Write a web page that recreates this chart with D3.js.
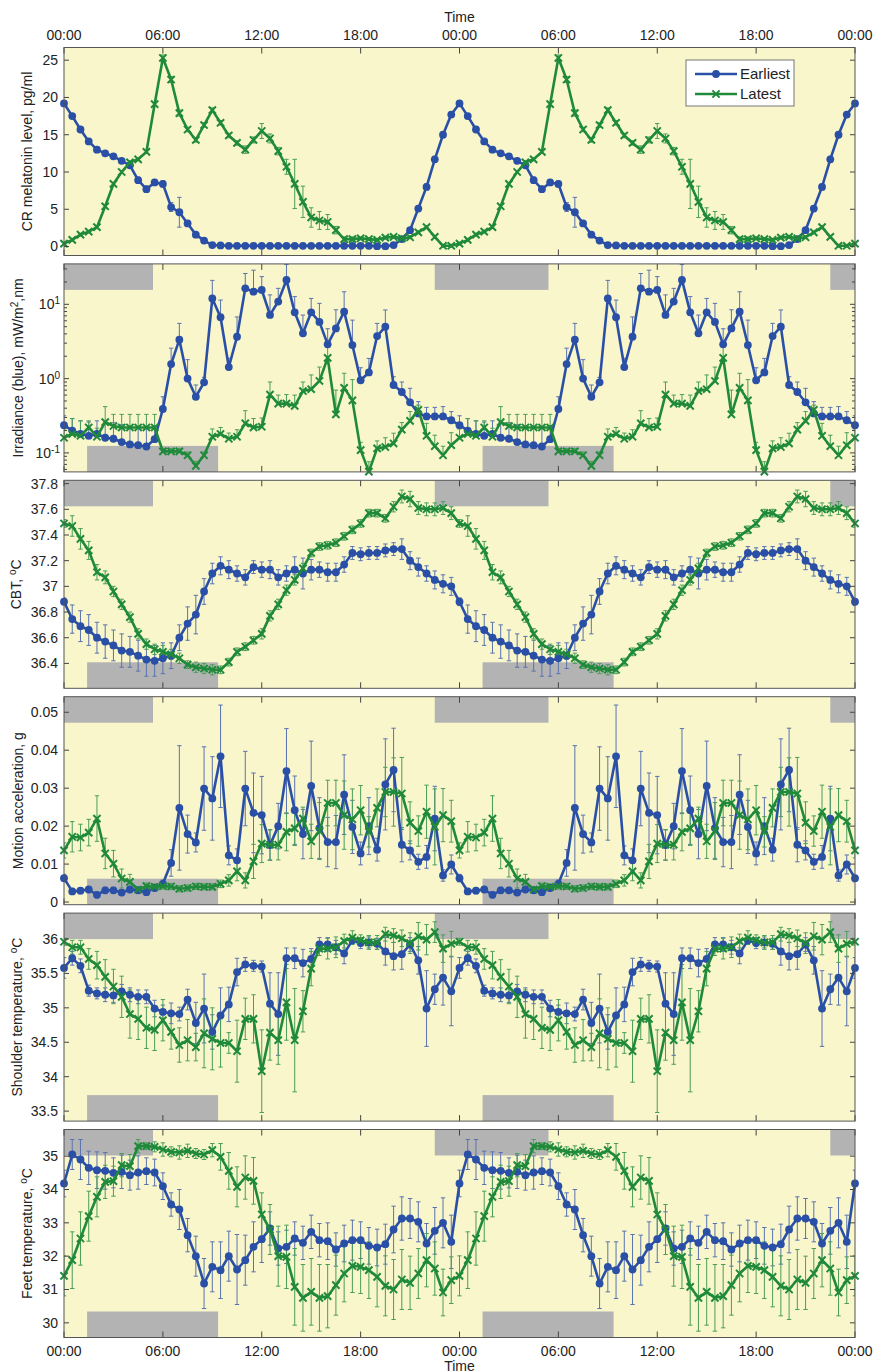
<!DOCTYPE html>
<html lang="en">
<head>
<meta charset="UTF-8">
<title>Earliest vs latest chronotype, double-plotted day</title>
<style>
  body { margin: 0; background: #fff; }
  text { font-family: "Liberation Sans", Arial, sans-serif; fill: #222; }
</style>
</head>
<body>
<div id="my_dataviz"></div>
<script src="https://d3js.org/d3.v7.min.js"></script>
<script>
// ---- data: one value per 30 min, 00:00 .. 23:30 (rows = 6 h each) ----
var hourLabels = ["00:00", "06:00", "12:00", "18:00", "00:00", "06:00", "12:00", "18:00", "00:00"];
var seriesNames = ["Earliest", "Latest"];

// sleep windows (clock hours, onset -> offset)
var earlySleep = [22.5, 29.4];
var lateSleep = [1.4, 9.35];

var melEarly = [
  19.2, 17.5, 15.7, 14.1, 13.0, 12.5, 12.1, 11.5, 10.9, 8.9, 7.7, 8.6,
  8.4, 5.3, 4.6, 3.1, 1.6, 0.8, 0.2, 0.15, 0.1, 0.1, 0.1, 0.1,
  0.1, 0.1, 0.1, 0.1, 0.1, 0.1, 0.1, 0.1, 0.1, 0.1, 0.1, 0.1,
  0.1, 0.1, 0.05, 0.05, 0.2, 1.0, 2.2, 5.1, 8.0, 11.7, 15.0, 17.7];
var melEarlyErr = [
  0.3, 0.3, 0.3, 0.3, 0.3, 0.3, 0.3, 0.3, 0.3, 0.4, 0.4, 0.4,
  0.4, 0.6, 2.0, 0.4, 0.3, 0.2, 0.1, 0.1, 0.1, 0.1, 0.1, 0.1,
  0.1, 0.1, 0.1, 0.1, 0.1, 0.1, 0.1, 0.1, 0.1, 0.1, 0.1, 0.1,
  0.1, 0.1, 0.1, 0.1, 0.1, 0.2, 0.3, 0.4, 0.4, 0.4, 0.3, 0.3];
var melLate = [
  0.4, 0.9, 1.6, 2.0, 2.6, 5.4, 8.4, 10.0, 11.3, 11.7, 12.7, 19.1,
  25.3, 22.4, 17.9, 15.7, 14.3, 16.3, 18.3, 16.6, 14.9, 13.9, 13.0, 14.3,
  15.5, 14.5, 12.8, 10.7, 8.4, 6.0, 3.9, 3.5, 3.3, 2.2, 1.0, 1.0,
  1.1, 1.0, 0.9, 1.2, 1.3, 1.1, 1.25, 1.9, 2.6, 1.3, 0.1, 0.1];
var melLateErr = [
  0.2, 0.2, 0.2, 0.2, 0.2, 0.2, 0.2, 0.2, 0.2, 0.2, 0.2, 0.2,
  0.4, 0.4, 0.4, 0.3, 0.3, 0.3, 0.3, 0.3, 0.3, 0.3, 0.5, 0.4,
  1.0, 0.6, 0.5, 1.0, 3.3, 2.1, 1.3, 1.2, 1.0, 0.5, 0.3, 0.3,
  0.2, 0.2, 0.2, 0.2, 0.2, 0.2, 0.2, 0.2, 0.2, 0.2, 0.2, 0.2];

var irrEarly = [
  0.236, 0.20, 0.18, 0.17, 0.18, 0.16, 0.155, 0.14, 0.13, 0.127, 0.122, 0.153,
  0.39, 1.57, 3.34, 1.0, 0.57, 0.89, 12, 6.7, 1.43, 3.66, 16.4, 14.8,
  15.6, 7.2, 10.9, 21.3, 7.8, 4.07, 7.8, 5.8, 2.89, 4.74, 7.96, 2.83,
  0.95, 1.21, 3.74, 5.0, 0.82, 0.66, 0.48, 0.34, 0.31, 0.31, 0.31, 0.275];
var irrEarlyErr = [
  0.08, 0.09, 0.09, 0.09, 0.09, 0.1, 0.1, 0.1, 0.1, 0.1, 0.1, 0.08,
  0.18, 1.0, 2.2, 0.8, 0.25, 0.15, 9, 4.7, 0.45, 3.1, 9.6, 14,
  8, 6.2, 5.5, 13, 4.9, 3.1, 4.2, 4.5, 1.8, 3.7, 6.8, 3.3,
  0.45, 0.66, 1.8, 3.4, 0.24, 0.24, 0.26, 0.15, 0.1, 0.1, 0.11, 0.085];
var irrLate = [
  0.16, 0.18, 0.17, 0.22, 0.165, 0.26, 0.23, 0.22, 0.22, 0.22, 0.22, 0.22,
  0.105, 0.105, 0.105, 0.093, 0.067, 0.093, 0.165, 0.18, 0.155, 0.165, 0.25, 0.22,
  0.225, 0.61, 0.46, 0.46, 0.43, 0.68, 0.72, 0.93, 1.9, 0.33, 0.75, 0.51,
  0.109, 0.056, 0.115, 0.12, 0.134, 0.206, 0.27, 0.38, 0.17, 0.123, 0.093, 0.127];
var irrLateErr = [
  0.05, 0.11, 0.1, 0.05, 0.05, 0.16, 0.1, 0.11, 0.11, 0.11, 0.11, 0.11,
  0.01, 0.01, 0.01, 0.01, 0.01, 0.01, 0.045, 0.04, 0.03, 0.04, 0.12, 0.07,
  0.07, 0.29, 0.14, 0.15, 0.17, 0.22, 0.4, 0.5, 1.1, 0.37, 0.43, 0.46,
  0.03, 0.02, 0.03, 0.04, 0.05, 0.05, 0.09, 0.06, 0.08, 0.05, 0.03, 0.06];

var cbtEarly = [
  36.88, 36.745, 36.69, 36.66, 36.60, 36.57, 36.54, 36.50, 36.49, 36.46, 36.43, 36.42,
  36.44, 36.46, 36.60, 36.71, 36.78, 36.96, 37.10, 37.16, 37.13, 37.10, 37.07, 37.15,
  37.13, 37.13, 37.07, 37.10, 37.13, 37.10, 37.13, 37.13, 37.11, 37.11, 37.17, 37.26,
  37.25, 37.26, 37.26, 37.28, 37.29, 37.29, 37.20, 37.15, 37.10, 37.05, 37.02, 37.00];
var cbtEarlyErr = [
  0.03, 0.11, 0.12, 0.12, 0.12, 0.13, 0.12, 0.13, 0.12, 0.12, 0.13, 0.12,
  0.12, 0.1, 0.1, 0.13, 0.15, 0.1, 0.08, 0.07, 0.07, 0.06, 0.06, 0.05,
  0.06, 0.07, 0.06, 0.06, 0.1, 0.12, 0.08, 0.06, 0.07, 0.07, 0.06, 0.05,
  0.05, 0.05, 0.05, 0.05, 0.05, 0.08, 0.07, 0.07, 0.06, 0.07, 0.07, 0.07];
var cbtLate = [
  37.49, 37.47, 37.37, 37.28, 37.11, 37.07, 36.96, 36.86, 36.76, 36.63, 36.55, 36.51,
  36.49, 36.47, 36.44, 36.39, 36.37, 36.36, 36.35, 36.35, 36.41, 36.49, 36.53, 36.58,
  36.63, 36.77, 36.86, 36.97, 37.05, 37.14, 37.26, 37.31, 37.32, 37.34, 37.39, 37.44,
  37.49, 37.57, 37.57, 37.53, 37.62, 37.70, 37.68, 37.61, 37.60, 37.60, 37.61, 37.57];
var cbtLateErr = [
  0.03, 0.08, 0.08, 0.07, 0.06, 0.05, 0.04, 0.04, 0.04, 0.04, 0.04, 0.04,
  0.05, 0.04, 0.04, 0.03, 0.04, 0.04, 0.04, 0.03, 0.03, 0.03, 0.03, 0.03,
  0.04, 0.04, 0.04, 0.04, 0.04, 0.04, 0.03, 0.03, 0.03, 0.03, 0.03, 0.03,
  0.03, 0.03, 0.03, 0.03, 0.04, 0.05, 0.06, 0.05, 0.05, 0.05, 0.05, 0.05];

var motEarly = [
  0.0063, 0.0028, 0.003, 0.0033, 0.0019, 0.0031, 0.0031, 0.0025, 0.0033, 0.0031, 0.0026, 0.0037,
  0.0048, 0.0103, 0.0248, 0.0179, 0.0157, 0.0299, 0.0273, 0.0384, 0.0123, 0.011, 0.0299, 0.0235,
  0.0229, 0.015, 0.020, 0.0345, 0.0242, 0.0179, 0.0306, 0.0195, 0.0158, 0.0158, 0.0283, 0.0198,
  0.0128, 0.020, 0.0138, 0.031, 0.0348, 0.0151, 0.0136, 0.0106, 0.0119, 0.022, 0.007, 0.0099];
var motEarlyErr = [
  0.001, 0.0008, 0.0008, 0.0008, 0.0008, 0.0008, 0.0008, 0.0008, 0.0008, 0.0008, 0.0008, 0.0008,
  0.001, 0.0035, 0.0164, 0.005, 0.0025, 0.011, 0.011, 0.0135, 0.0025, 0.003, 0.0098, 0.0105,
  0.0102, 0.004, 0.006, 0.0112, 0.009, 0.0065, 0.0118, 0.008, 0.0065, 0.007, 0.0105, 0.007,
  0.003, 0.0075, 0.003, 0.012, 0.011, 0.0045, 0.0025, 0.002, 0.003, 0.0085, 0.0015, 0.0025];
var motLate = [
  0.0136, 0.0172, 0.017, 0.0183, 0.022, 0.0128, 0.0101, 0.0062, 0.0053, 0.0033, 0.0042, 0.004,
  0.0042, 0.0041, 0.0035, 0.0037, 0.0041, 0.004, 0.004, 0.0048, 0.0057, 0.0081, 0.0057, 0.0107,
  0.0154, 0.0151, 0.0151, 0.0185, 0.0194, 0.022, 0.016, 0.0187, 0.0261, 0.0261, 0.0229, 0.0218,
  0.0242, 0.0185, 0.0248, 0.029, 0.029, 0.0286, 0.0209, 0.0187, 0.0238, 0.0198, 0.0229, 0.0213];
var motLateErr = [
  0.002, 0.004, 0.0035, 0.0035, 0.006, 0.004, 0.0035, 0.0025, 0.002, 0.0008, 0.0008, 0.0008,
  0.0008, 0.0008, 0.0008, 0.0008, 0.0008, 0.0008, 0.0008, 0.001, 0.0015, 0.0025, 0.002, 0.0045,
  0.005, 0.004, 0.004, 0.005, 0.0045, 0.003, 0.0045, 0.0075, 0.006, 0.006, 0.009, 0.008,
  0.0065, 0.004, 0.005, 0.0065, 0.009, 0.0095, 0.0055, 0.004, 0.007, 0.01, 0.007, 0.0055];

var shEarly = [
  35.58, 35.72, 35.61, 35.25, 35.21, 35.19, 35.18, 35.24, 35.19, 35.16, 35.16, 34.99,
  34.94, 34.92, 34.91, 35.12, 34.78, 34.99, 34.65, 34.89, 35.05, 35.52, 35.63, 35.61,
  35.60, 35.06, 34.91, 35.72, 35.72, 35.65, 35.71, 35.92, 35.92, 35.88, 35.79, 35.98,
  35.94, 35.95, 35.93, 35.82, 35.75, 35.78, 35.92, 35.69, 34.99, 35.27, 35.44, 35.24];
var shEarlyErr = [
  0.15, 0.1, 0.1, 0.08, 0.08, 0.1, 0.1, 0.1, 0.1, 0.1, 0.1, 0.12,
  0.1, 0.15, 0.1, 0.15, 0.3, 0.5, 0.25, 0.4, 0.25, 0.2, 0.1, 0.08,
  0.08, 0.45, 0.6, 0.15, 0.15, 0.2, 0.15, 0.1, 0.1, 0.1, 0.15, 0.05,
  0.08, 0.08, 0.08, 0.2, 0.2, 0.22, 0.1, 0.2, 0.55, 0.22, 0.4, 0.5];
var shLate = [
  35.96, 35.88, 35.88, 35.71, 35.62, 35.45, 35.31, 35.16, 34.91, 34.84, 34.71, 34.68,
  34.82, 34.65, 34.46, 34.53, 34.43, 34.63, 34.55, 34.49, 34.49, 34.37, 34.84, 34.84,
  34.08, 34.64, 34.53, 35.08, 34.53, 34.95, 35.57, 35.86, 35.86, 35.88, 35.97, 36.02,
  35.98, 35.95, 35.95, 36.07, 36.05, 36.01, 35.94, 36.04, 35.99, 36.10, 35.86, 35.93];
var shLateErr = [
  0.05, 0.1, 0.1, 0.15, 0.2, 0.25, 0.25, 0.3, 0.35, 0.3, 0.3, 0.3,
  0.3, 0.25, 0.25, 0.3, 0.2, 0.5, 0.45, 0.35, 0.15, 0.45, 0.3, 0.35,
  0.6, 0.4, 0.35, 0.55, 0.75, 0.3, 0.25, 0.1, 0.15, 0.15, 0.1, 0.1,
  0.08, 0.1, 0.1, 0.1, 0.1, 0.12, 0.15, 0.2, 0.22, 0.15, 0.2, 0.18];

var feetEarly = [
  34.18, 35.05, 34.90, 34.65, 34.58, 34.56, 34.50, 34.53, 34.43, 34.51, 34.55, 34.51,
  34.10, 33.55, 33.40, 32.63, 32.00, 31.18, 31.68, 31.58, 32.00, 31.60, 31.88, 32.28,
  32.51, 32.83, 32.23, 32.28, 32.53, 32.40, 32.73, 32.48, 32.45, 32.20, 32.38, 32.48,
  32.48, 32.31, 32.26, 32.36, 32.80, 33.13, 33.13, 33.03, 32.38, 32.76, 33.00, 32.43];
var feetEarlyErr = [
  0.4, 0.45, 0.6, 0.5, 0.55, 0.55, 0.45, 0.5, 0.45, 0.5, 0.4, 0.4,
  0.4, 0.35, 0.6, 0.5, 0.6, 0.75, 0.75, 0.85, 0.75, 1.05, 0.75, 0.75,
  0.7, 0.5, 0.5, 0.5, 0.5, 0.5, 0.5, 0.5, 0.55, 0.5, 0.55, 0.6,
  0.55, 0.55, 0.55, 0.6, 0.7, 0.65, 0.6, 0.6, 0.6, 0.7, 0.75, 0.8];
var feetLate = [
  31.41, 31.88, 32.53, 33.20, 33.78, 34.23, 34.25, 34.73, 34.70, 35.30, 35.30, 35.28,
  35.20, 35.13, 35.11, 35.16, 35.08, 35.05, 35.18, 34.98, 34.56, 34.08, 34.36, 34.26,
  33.25, 32.80, 32.00, 31.98, 31.08, 30.75, 30.93, 30.75, 30.80, 31.13, 31.48, 31.71,
  31.68, 31.58, 31.38, 31.11, 31.00, 31.30, 31.20, 31.48, 31.88, 31.63, 30.91, 31.28];
var feetLateErr = [
  0.6, 0.85, 0.8, 0.75, 0.6, 0.5, 0.45, 0.35, 0.35, 0.2, 0.1, 0.15,
  0.2, 0.15, 0.2, 0.2, 0.15, 0.15, 0.2, 0.4, 0.55, 0.6, 0.65, 0.7,
  0.65, 0.75, 0.9, 0.95, 1.15, 1.0, 1.0, 1.0, 0.95, 0.9, 0.85, 0.8,
  0.8, 0.85, 0.9, 0.9, 0.9, 0.9, 0.8, 0.75, 0.8, 0.8, 0.7, 0.7];

// ---- layout ----
var plotLeft = 64, plotW = 791;
var panelTop = 47.5, panelH = 208, panelStep = 216.4;
var colors = ["#2a4fa6", "#1f8a3a"];
var errColors = ["#5a73b0", "#4a9e5a"];
var bg = "#f8f6ca";

var panels = [
  { label: ["CR melatonin level, pg/ml"], lx: 32, series: [melEarly, melLate], errs: [melEarlyErr, melLateErr],
    domain: [-1.2, 26.7], ticks: [0, 5, 10, 15, 20, 25], sleep: false },
  { label: ["Irradiance (blue), mW/m", "2", ",nm"], lx: 23, series: [irrEarly, irrLate], errs: [irrEarlyErr, irrLateErr],
    domain: [0.0555, 35], ticks: [0.1, 1, 10], log: true, sleep: true },
  { label: ["CBT, ", "o", "C"], lx: 21, series: [cbtEarly, cbtLate], errs: [cbtEarlyErr, cbtLateErr],
    domain: [36.206, 37.826], ticks: [36.4, 36.6, 36.8, 37, 37.2, 37.4, 37.6, 37.8], sleep: true },
  { label: ["Motion acceleration, g"], lx: 23, series: [motEarly, motLate], errs: [motEarlyErr, motLateErr],
    domain: [-0.0007, 0.0541], ticks: [0, 0.01, 0.02, 0.03, 0.04, 0.05], sleep: true },
  { label: ["Shoulder temperature, ", "o", "C"], lx: 22, series: [shEarly, shLate], errs: [shEarlyErr, shLateErr],
    domain: [33.355, 36.376], ticks: [33.5, 34, 34.5, 35, 35.5, 36], sleep: true },
  { label: ["Feet temperature, ", "o", "C"], lx: 32, series: [feetEarly, feetLate], errs: [feetEarlyErr, feetLateErr],
    domain: [29.56, 35.8], ticks: [30, 31, 32, 33, 34, 35], sleep: true }
];

var svg = d3.select("#my_dataviz")
  .append("svg")
  .attr("width", 875)
  .attr("height", 1372);

var x = d3.scaleLinear().domain([0, 48]).range([0, plotW]);
var hourTicks = d3.range(0, 49, 6);
// the 24 h profile is shown twice (double plot): 97 half-hour stamps
var stamps = d3.range(0, 97).map(function (i) { return i * 0.5; });

function doubled(arr) {
  return stamps.map(function (t, i) { return { t: t, v: arr[i % 48] }; });
}

function addLabel(sel, parts, size) {
  sel.append("tspan").text(parts[0]);
  if (parts.length > 1) {
    sel.append("tspan").attr("baseline-shift", "super").attr("font-size", size - 4).text(parts[1]);
    sel.append("tspan").text(parts[2]);
  }
}

// cross marker for "Latest"
var crossPath = "M-3.6,-3.6L3.6,3.6M-3.6,3.6L3.6,-3.6";

panels.forEach(function (p, pi) {
  var top = panelTop + pi * panelStep;
  var g = svg.append("g").attr("transform", "translate(" + plotLeft + "," + top + ")");

  var y = (p.log ? d3.scaleLog() : d3.scaleLinear()).domain(p.domain).range([panelH, 0]);

  g.append("rect").attr("width", plotW).attr("height", panelH).attr("fill", bg);

  // sleep bars: earliest on top, latest at the bottom
  if (p.sleep) {
    var barH = 26;
    var early = [-24, 0, 24].map(function (s) { return [earlySleep[0] + s, earlySleep[1] + s]; });
    var late = [0, 24].map(function (s) { return [lateSleep[0] + s, lateSleep[1] + s]; });
    function clipSpan(s) { return [Math.max(0, s[0]), Math.min(48, s[1])]; }
    g.selectAll(".sleepTop").data(early.map(clipSpan).filter(function (s) { return s[1] > s[0]; }))
      .enter().append("rect")
      .attr("x", function (d) { return x(d[0]); })
      .attr("width", function (d) { return x(d[1]) - x(d[0]); })
      .attr("y", 0).attr("height", barH)
      .attr("fill", "#b3b3b3");
    g.selectAll(".sleepBot").data(late.map(clipSpan))
      .enter().append("rect")
      .attr("x", function (d) { return x(d[0]); })
      .attr("width", function (d) { return x(d[1]) - x(d[0]); })
      .attr("y", panelH - barH).attr("height", barH)
      .attr("fill", "#b3b3b3");
  }

  var clipId = "clip" + pi;
  g.append("clipPath").attr("id", clipId)
    .append("rect").attr("width", plotW).attr("height", panelH);

  // error bars
  p.series.forEach(function (arr, si) {
    var pts = doubled(arr);
    var errs = p.errs[si];
    var eb = g.append("g").attr("clip-path", "url(#" + clipId + ")")
      .attr("stroke", errColors[si]).attr("stroke-width", 1).attr("fill", "none");
    pts.forEach(function (d, i) {
      var e = errs[i % 48];
      var hi = y(d.v + e);
      var lo = p.log ? y(d.v) : y(d.v - e);
      var cx = x(d.t);
      eb.append("line").attr("x1", cx).attr("x2", cx).attr("y1", lo).attr("y2", hi);
      eb.append("line").attr("x1", cx - 2.2).attr("x2", cx + 2.2).attr("y1", hi).attr("y2", hi);
      if (!p.log) eb.append("line").attr("x1", cx - 2.2).attr("x2", cx + 2.2).attr("y1", lo).attr("y2", lo);
    });
  });

  // lines and markers
  p.series.forEach(function (arr, si) {
    var pts = doubled(arr);
    var line = d3.line().x(function (d) { return x(d.t); }).y(function (d) { return y(d.v); });
    g.append("path").datum(pts)
      .attr("d", line)
      .attr("fill", "none")
      .attr("stroke", colors[si])
      .attr("stroke-width", 2.6)
      .attr("stroke-linejoin", "round");
    if (si === 0) {
      g.selectAll(".dot" + pi).data(pts).enter().append("circle")
        .attr("cx", function (d) { return x(d.t); })
        .attr("cy", function (d) { return y(d.v); })
        .attr("r", 3.9)
        .attr("fill", colors[0]);
    } else {
      g.selectAll(".cross" + pi).data(pts).enter().append("path")
        .attr("d", crossPath)
        .attr("transform", function (d) { return "translate(" + x(d.t) + "," + y(d.v) + ")"; })
        .attr("stroke", colors[1])
        .attr("stroke-width", 2)
        .attr("fill", "none");
    }
  });

  // ticks (inside), top/bottom and left/right
  var tk = g.append("g").attr("stroke", "#444").attr("stroke-width", 1);
  hourTicks.forEach(function (h) {
    tk.append("line").attr("x1", x(h)).attr("x2", x(h)).attr("y1", 0).attr("y2", 6);
    tk.append("line").attr("x1", x(h)).attr("x2", x(h)).attr("y1", panelH - 6).attr("y2", panelH);
  });
  p.ticks.forEach(function (t) {
    tk.append("line").attr("x1", 0).attr("x2", 5).attr("y1", y(t)).attr("y2", y(t));
    tk.append("line").attr("x1", plotW - 5).attr("x2", plotW).attr("y1", y(t)).attr("y2", y(t));
  });
  if (p.log) {
    var minor = [];
    [0.01, 0.1, 1, 10].forEach(function (dec) {
      d3.range(2, 10).forEach(function (m) {
        var v = dec * m;
        if (v > p.domain[0] && v < p.domain[1]) minor.push(v);
      });
    });
    minor.forEach(function (v) {
      tk.append("line").attr("x1", 0).attr("x2", 3).attr("y1", y(v)).attr("y2", y(v));
      tk.append("line").attr("x1", plotW - 3).attr("x2", plotW).attr("y1", y(v)).attr("y2", y(v));
    });
  }

  // y tick labels
  p.ticks.forEach(function (t) {
    var lab = g.append("text")
      .attr("x", p.log ? -4 : -6)
      .attr("y", y(t))
      .attr("dy", "0.35em")
      .attr("text-anchor", "end")
      .attr("font-size", 14);
    if (p.log) {
      lab.append("tspan").text("10");
      lab.append("tspan").attr("baseline-shift", "super").attr("font-size", 10).text(Math.round(Math.log10(t)));
    } else {
      lab.text(String(t));
    }
  });

  // frame
  g.append("rect").attr("width", plotW).attr("height", panelH)
    .attr("fill", "none").attr("stroke", "#555").attr("stroke-width", 1);

  // y axis title
  var yl = svg.append("text")
    .attr("transform", "translate(" + p.lx + "," + (top + panelH / 2) + ") rotate(-90)")
    .attr("text-anchor", "middle")
    .attr("font-size", 14);
  addLabel(yl, p.label, 14);

  // legend in the first panel
  if (pi === 0) {
    var lg = g.append("g").attr("transform", "translate(622,12.5)");
    lg.append("rect").attr("width", 108).attr("height", 46)
      .attr("fill", "#fff").attr("stroke", "#777").attr("stroke-width", 1);
    seriesNames.forEach(function (name, si) {
      var ly = 14 + si * 20;
      lg.append("line").attr("x1", 9).attr("x2", 51).attr("y1", ly).attr("y2", ly)
        .attr("stroke", colors[si]).attr("stroke-width", 2.6);
      if (si === 0) {
        lg.append("circle").attr("cx", 30).attr("cy", ly).attr("r", 3.9).attr("fill", colors[0]);
      } else {
        lg.append("path").attr("d", crossPath).attr("transform", "translate(30," + ly + ")")
          .attr("stroke", colors[1]).attr("stroke-width", 2).attr("fill", "none");
      }
      lg.append("text").attr("x", 54).attr("y", ly).attr("dy", "0.36em")
        .attr("font-size", 15).text(name);
    });
  }
});

// top and bottom time axes
var lastBottom = panelTop + 5 * panelStep + panelH;
hourTicks.forEach(function (h, i) {
  svg.append("text").attr("x", plotLeft + x(h)).attr("y", 40)
    .attr("text-anchor", "middle").attr("font-size", 14).text(hourLabels[i]);
  svg.append("text").attr("x", plotLeft + x(h)).attr("y", lastBottom + 18)
    .attr("text-anchor", "middle").attr("font-size", 14).text(hourLabels[i]);
});
svg.append("text").attr("x", plotLeft + x(24)).attr("y", 22)
  .attr("text-anchor", "middle").attr("font-size", 14).text("Time");
svg.append("text").attr("x", plotLeft + x(24)).attr("y", lastBottom + 33)
  .attr("text-anchor", "middle").attr("font-size", 14).text("Time");
</script>
</body>
</html>
